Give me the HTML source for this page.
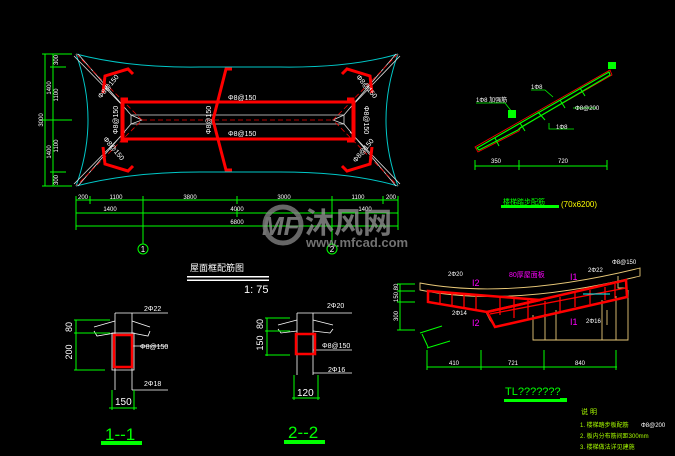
<!DOCTYPE html>
<html><head><meta charset="utf-8"><style>
html,body{margin:0;padding:0;background:#000;}
svg{display:block}
text{font-family:"Liberation Sans","Noto Sans CJK SC",sans-serif;}
</style></head><body>
<svg width="675" height="456" viewBox="0 0 675 456" xmlns="http://www.w3.org/2000/svg">
<rect width="675" height="456" fill="#000"/>

<!-- PLAN -->
<g fill="none">
<path d="M76,54 Q130,68 200,67 L280,67 Q350,68 398,54" stroke="#00c8c8" stroke-width="1"/>
<path d="M76,186 Q130,172 200,172 L280,172 Q350,172 398,186" stroke="#00c8c8" stroke-width="1"/>
<path d="M76,54 Q100,120 76,186" stroke="#00c8c8" stroke-width="1"/>
<path d="M398,54 Q374,120 398,186" stroke="#00c8c8" stroke-width="1"/>
<g stroke="#ddd" stroke-width="0.8">
<path d="M78,54 L131,115 M74,56 L125,108"/>
<path d="M78,186 L131,124 M74,184 L125,132"/>
<path d="M396,54 L344,115 M400,56 L350,108"/>
<path d="M396,186 L344,124 M400,184 L350,132"/>
<path d="M131,115 H344 V124 H131 Z"/>
<path d="M131,115 L142,120 L131,124 M344,115 L333,120 L344,124"/>
</g>
<g stroke="#e00" stroke-width="0.8" stroke-dasharray="5,3">
<path d="M142,120 H333 M76,54 L142,120 L76,186 M398,54 L333,120 L398,186"/>
</g>
<g stroke="#f00" stroke-width="3">
<rect x="123" y="102" width="231" height="37"/>
<path d="M232,69 H226 L213,120 L226,170 H232"/>
<path d="M128,99 H122 V141 H128"/>
<path d="M347,99 H353 V141 H347"/>
<path d="M103,93 L105,76 L128,69 L133,74"/>
<path d="M103,147 L105,164 L128,171 L133,166"/>
<path d="M372,93 L370,76 L347,69 L342,74"/>
<path d="M372,147 L370,164 L347,171 L342,166"/>
</g>
</g>
<g fill="#fff" font-size="7">
<text x="228" y="100">Φ8@150</text>
<text x="228" y="136">Φ8@150</text>
<text transform="translate(211,120) rotate(-90)" text-anchor="middle">Φ8@150</text>
<text transform="translate(118,120) rotate(-90)" text-anchor="middle">Φ8@150</text>
<text transform="translate(364,120) rotate(90)" text-anchor="middle">Φ8@150</text>
<text transform="translate(110,88) rotate(-50)" text-anchor="middle">Φ8@150</text>
<text transform="translate(112,150) rotate(50)" text-anchor="middle">Φ8@150</text>
<text transform="translate(365,88) rotate(50)" text-anchor="middle">Φ8@150</text>
<text transform="translate(365,152) rotate(-50)" text-anchor="middle">Φ8@150</text>
</g>
<g stroke="#0f0" stroke-width="1" fill="none">
<path d="M45,54 V186 M53,54 V186 M42,54 H72 M42,120 H72 M42,186 H72 M50,67 H66 M50,172 H66"/>
<path d="M76,200 H398 M76,213 H398 M76,226 H398"/>
<path d="M76,196 V230 M90,196 V204 M143,196 V244 M237,196 V204 M332,196 V244 M383,196 V204 M398,196 V230 M237,209 V217"/>
<circle cx="143" cy="249" r="5"/><circle cx="332" cy="249" r="5"/>
</g>
<g fill="#fff" font-size="6" text-anchor="middle">
<text x="83" y="199">200</text><text x="116" y="199">1100</text><text x="190" y="199">3800</text>
<text x="284" y="199">3000</text><text x="358" y="199">1100</text><text x="391" y="199">200</text>
<text x="110" y="211">1400</text><text x="237" y="211">4000</text><text x="365" y="211">1400</text>
<text x="237" y="224">6800</text>
<text x="143" y="252" font-size="8">1</text><text x="332" y="252" font-size="8">2</text>
<text transform="translate(43,120) rotate(-90)">3000</text>
<text transform="translate(51,88) rotate(-90)">1400</text>
<text transform="translate(51,152) rotate(-90)">1400</text>
<text transform="translate(58,60) rotate(-90)">300</text>
<text transform="translate(58,180) rotate(-90)">300</text>
<text transform="translate(58,95) rotate(-90)">1100</text>
<text transform="translate(58,146) rotate(-90)">1100</text>
</g>

<text x="190" y="271" fill="#fff" font-size="9">屋面框配筋图</text>
<rect x="187" y="276" width="82" height="1.5" fill="#fff"/>
<rect x="187" y="279.5" width="82" height="1.5" fill="#fff"/>
<text x="244" y="293" fill="#fff" font-size="11">1: 75</text>

<!-- section 1-1 -->
<g fill="none" stroke="#fff" stroke-width="0.8">
<path d="M115,313 V390 M132,313 V390 M115,313 H168 M132,346 H168 M132,390 H168 M112,333 H134 V370 H112 Z"/>
<path d="M94,327 L115,321 M94,331 L97,336 L115,333 M132,321 L150,327 M132,333 L148,336 L150,331"/>
</g>
<rect x="114" y="335" width="18" height="32" fill="none" stroke="#f00" stroke-width="2.5"/>
<g stroke="#0f0" stroke-width="1" fill="none">
<path d="M76,320 V370 M74,320 H110 M74,333 H110 M74,370 H105 M112,390 V410 M134,390 V410 M109,408 H137"/>
</g>
<g fill="#fff" font-size="7">
<text x="144" y="311">2Φ22</text><text x="140" y="349">Φ8@150</text><text x="144" y="386">2Φ18</text>
<text x="115" y="405" font-size="10">150</text>
<text transform="translate(72,327) rotate(-90)" text-anchor="middle" font-size="9">80</text>
<text transform="translate(72,352) rotate(-90)" text-anchor="middle" font-size="9">200</text>
</g>
<text x="105" y="440" fill="#0f0" font-size="17">1--1</text>
<rect x="101" y="441" width="41" height="4" fill="#0f0"/>

<!-- section 2-2 -->
<g fill="none" stroke="#fff" stroke-width="0.8">
<path d="M297,313 V375 M313,313 V375 M297,313 H352 M313,350 H352 M313,373 H352"/>
<path d="M278,325 L297,320 M278,329 L281,333 L297,331 M313,320 L333,325 M313,331 L330,333 L333,329"/>
</g>
<rect x="296" y="334" width="19" height="20" fill="none" stroke="#f00" stroke-width="2.5"/>
<g stroke="#0f0" stroke-width="1" fill="none">
<path d="M267,318 V356 M265,318 H290 M265,331 H290 M265,355 H290 M294,375 V400 M318,375 V400 M292,398 H320"/>
</g>
<g fill="#fff" font-size="7">
<text x="327" y="308">2Φ20</text><text x="322" y="348">Φ8@150</text><text x="328" y="372">2Φ16</text>
<text x="297" y="396" font-size="10">120</text>
<text transform="translate(263,324) rotate(-90)" text-anchor="middle" font-size="9">80</text>
<text transform="translate(263,343) rotate(-90)" text-anchor="middle" font-size="9">150</text>
</g>
<text x="288" y="438" fill="#0f0" font-size="17">2--2</text>
<rect x="284" y="440" width="41" height="4" fill="#0f0"/>

<!-- right detail -->
<g fill="none" stroke="#e8c878" stroke-width="0.9">
<path d="M420,283 Q510,300 640,268 L640,276 Q510,308 420,290 Z"/>
<path d="M428,302 L486,312 L490,320 L495,327 M533,315 V340 H628 V290 M545,312 V340 M556,310 V340 M602,300 V340 M616,296 V340"/>
<path d="M607,310 V325 M618,276 V288 H626"/>
</g>
<g fill="none" stroke="#f00">
<path d="M428,291 L540,300 L487,312 L428,302 Z" stroke-width="2.5"/>
<path d="M487,312 L626,280 L627,297 L495,327 Z" stroke-width="2.5"/>
</g>
<g stroke="#f00" stroke-width="1.3">
<path d="M440,292 V303 M452,293 V305 M464,294 V307 M476,295 V309 M500,298 V315 M514,299 V318 M528,300 V320 M545,301 V314 M560,297 V311 M575,293 V307 M590,290 V304 M605,287 V300 M615,284 V298"/>
<path d="M490,314 L626,288"/>
</g>
<path d="M583,294 H610" stroke="#0ff" stroke-width="1"/>
<g fill="#fff" font-size="6">
<text x="448" y="276">2Φ20</text><text x="588" y="272">2Φ22</text><text x="612" y="264">Φ8@150</text>
<text x="452" y="315">2Φ14</text><text x="586" y="323">2Φ16</text>
</g>
<text x="509" y="277" fill="#f0f" font-size="7">80厚屋面板</text>
<g fill="#f0f" font-size="9"><text x="472" y="286">I2</text><text x="472" y="326">I2</text><text x="570" y="280">I1</text><text x="570" y="325">I1</text></g>
<g stroke="#0f0" stroke-width="1" fill="none">
<path d="M400,284 V330 M397,284 H415 M397,291 H415 M397,302 H415 M397,330 H415"/>
<path d="M427,367 H617 M427,350 V370 M481,350 V370 M544,350 V370 M616,350 V370"/>
<path d="M420,333 L442,326 M427,348 L450,341 M422,334 L428,347"/>
</g>
<g fill="#fff" font-size="6" text-anchor="middle">
<text x="454" y="365">410</text><text x="513" y="365">721</text><text x="580" y="365">840</text>
<text transform="translate(398,287) rotate(-90)">80</text>
<text transform="translate(398,297) rotate(-90)">150</text>
<text transform="translate(398,316) rotate(-90)">300</text>
</g>
<text x="505" y="395" fill="#0f0" font-size="11">TL???????</text>
<rect x="504" y="399" width="63" height="3" fill="#0f0"/>
<g fill="#aaff00" font-size="6">
<text x="581" y="414" font-size="7">说 明</text>
<text x="580" y="427">1. 楼梯踏步板配筋</text>
<text x="580" y="438">2. 板内分布筋间距300mm</text>
<text x="580" y="449">3. 楼梯做法详见建施</text>
</g>
<text x="641" y="427" fill="#fff" font-size="6">Φ8@200</text>
<rect x="560" y="398" width="7" height="3" fill="#0f0"/>

<!-- top-right stair -->
<g fill="none">
<path d="M475,147 L610,70 L612,75 L521,127 L519,131 L478,152 Z" stroke="#f00" stroke-width="0.8"/>
<path d="M477,148 L609,72 L610,75 L520,128 L518,130 L479,150 Z" stroke="#0f0" stroke-width="1.2"/>
<path d="M495,138 L499,146 M520,123 L525,131 M538,112 L545,120 M560,100 L565,108 M580,88 L585,96" stroke="#0f0" stroke-width="1"/>
<path d="M475,166 H607 M475,160 V170 M519,160 V170 M607,160 V170" stroke="#0f0" stroke-width="1"/>
<path d="M476,103 H505 L512,112 M531,90 H545 L553,97 M573,108 H596 M549,123 V129 H574" stroke="#0f0" stroke-width="0.8"/>
</g>
<rect x="508" y="110" width="8" height="8" fill="#0f0"/>
<rect x="608" y="62" width="8" height="7" fill="#0f0"/>
<g fill="#fff" font-size="6">
<text x="476" y="102">1Φ8 加强筋</text><text x="531" y="89">1Φ8</text><text x="575" y="110">Φ8@200</text><text x="556" y="129">1Φ8</text>
<text x="491" y="163">350</text><text x="558" y="163">720</text>
</g>
<text x="503" y="204" fill="#0f0" font-size="7">楼梯踏步配筋</text>
<rect x="501" y="205" width="58" height="3" fill="#0f0"/>
<text x="561" y="207" fill="#ff0" font-size="8">(70x6200)</text>

<!-- watermark -->
<g opacity="0.75">
<circle cx="283" cy="225" r="18" fill="none" stroke="#888" stroke-width="5"/>
<text x="262" y="235" fill="#999" font-size="26" font-weight="bold" font-style="italic">MF</text>
<text x="305" y="233" fill="#999" font-size="29" font-weight="bold" font-family="'Noto Sans CJK SC',sans-serif">沐风网</text>
<text x="306" y="247" fill="#999" font-size="13" font-weight="bold">www.mfcad.com</text>
</g>
</svg>
</body></html>
